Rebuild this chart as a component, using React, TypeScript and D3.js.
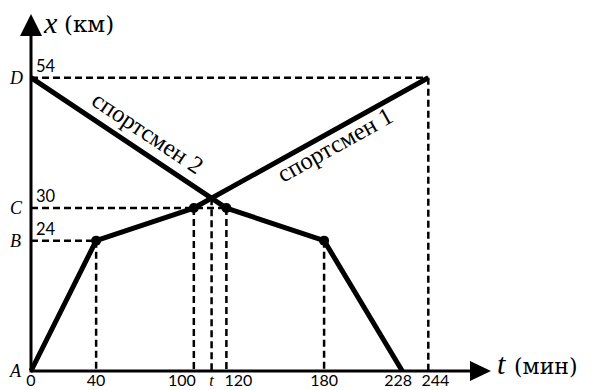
import React from "react";
import * as d3 from "d3";

const athlete1T = [0, 40, 100, 244];
const athlete1X = [0, 24, 30, 54];
const athlete2T = [0, 120, 180, 228];
const athlete2X = [54, 30, 24, 0];
const dotT = [40, 100, 120, 180];
const dotX = [24, 30, 30, 24];
const xTickValues = [0, 40, 100, 120, 180, 228, 244];
const yTickValues = [54, 30, 24];
const yLetters = ["D", "C", "B"];

// meeting point: athlete2 segment 0..120 with athlete1 segment 100..244
const s1 = (54 - 30) / (244 - 100);
const s2 = (30 - 54) / 120;
const tMeet = (30 - s1 * 100 - 54) / (s2 - s1);
const xMeet = 54 + s2 * tMeet;

export default function App() {
  const W = 592, H = 390;
  const x = d3.scaleLinear().domain([0, 244]).range([31, 428.3]);
  const y = d3.scaleLinear().domain([0, 54]).range([371, 77.7]);
  const line = d3.line<[number, number]>().x((d) => x(d[0])).y((d) => y(d[1]));
  const p1 = athlete1T.map((t, i) => [t, athlete1X[i]] as [number, number]);
  const p2 = athlete2T.map((t, i) => [t, athlete2X[i]] as [number, number]);

  const dash = "7,4";
  const dashW = 2.5;
  const vDash: [number, number][] = [
    [40, 24], [100, 30], [tMeet, xMeet], [120, 30], [180, 24], [244, 54],
  ];
  const hDash: [number, number][] = [[54, 244], [30, 120], [24, 40]];
  const serif = "'DejaVu Serif', serif";
  const tnr = "'Liberation Serif', serif";
  const sans = "Lato, sans-serif";
  const tickShift: Record<number, number> = { 100: -12, 120: 12, 228: -4, 244: 7 };

  const ang2 = (Math.atan2(y(30) - y(54), x(120) - x(0)) * 180) / Math.PI;
  const ang1 = (Math.atan2(y(54) - y(30), x(244) - x(100)) * 180) / Math.PI;

  return (
    <div style={{ position: "fixed", left: 0, top: 0 }}>
      <svg width={W} height={H} style={{ display: "block", background: "#fff" }}>
        {hDash.map(([v, t], i) => (
          <line key={"h" + i} x1={x(0)} x2={x(t)} y1={y(v)} y2={y(v)}
            stroke="#000" strokeWidth={dashW} strokeDasharray={dash} />
        ))}
        {vDash.map(([t, v], i) => (
          <line key={"v" + i} x1={x(t)} x2={x(t)} y1={y(v)} y2={y(0)}
            stroke="#000" strokeWidth={dashW} strokeDasharray={dash} />
        ))}
        <path d={line(p1) || ""} fill="none" stroke="#000" strokeWidth={5} strokeLinejoin="round" />
        <path d={line(p2) || ""} fill="none" stroke="#000" strokeWidth={5} strokeLinejoin="round" />
        {dotT.map((t, i) => (
          <circle key={"d" + i} cx={x(t)} cy={y(dotX[i])} r={5} fill="#000" />
        ))}
        <line x1={x(0)} x2={472} y1={y(0)} y2={y(0)} stroke="#000" strokeWidth={3} />
        <line x1={x(0)} x2={x(0)} y1={y(0) + 1.5} y2={34} stroke="#000" strokeWidth={3} />
        <path d={`M${x(0)},14 L${x(0) - 11},36 L${x(0) + 11},36 Z`} fill="#000" />
        <path d={`M491,${y(0)} L470,${y(0) - 10} L470,${y(0) + 10} Z`} fill="#000" />
        <text x={44} y={33} fontFamily={tnr} fontStyle="italic" fontSize={30}>x</text>
        <text x={64} y={32} fontFamily={serif} fontSize={23}>(км)</text>
        <text x={497} y={374} fontFamily={tnr} fontStyle="italic" fontSize={30}>t</text>
        <text x={514} y={374} fontFamily={serif} fontSize={22}>(мин)</text>
        {xTickValues.map((t) => (
          <text key={"xt" + t} x={x(t) + (tickShift[t] || 0)} y={386} textAnchor="middle"
            fontFamily={sans} fontSize={16}>
            {t}
          </text>
        ))}
        <text x={x(tMeet)} y={386} textAnchor="middle" fontFamily={tnr} fontStyle="italic" fontSize={16}>t</text>
        {yTickValues.map((v, i) => (
          <g key={"yt" + v}>
            <text x={36} y={y(v) - 6} fontFamily={sans} fontSize={16.5}>{v}</text>
            <text x={10} y={y(v) + 6} fontFamily={tnr} fontStyle="italic" fontSize={18}>{yLetters[i]}</text>
          </g>
        ))}
        <text x={10} y={377} fontFamily={tnr} fontStyle="italic" fontSize={18}>A</text>
        <text transform={`translate(90,104) rotate(${ang2})`} fontFamily={tnr} fontSize={24.5}>спортсмен 2</text>
        <text transform={`translate(283,183) rotate(${ang1})`} fontFamily={tnr} fontSize={24.5}>спортсмен 1</text>
      </svg>
    </div>
  );
}
